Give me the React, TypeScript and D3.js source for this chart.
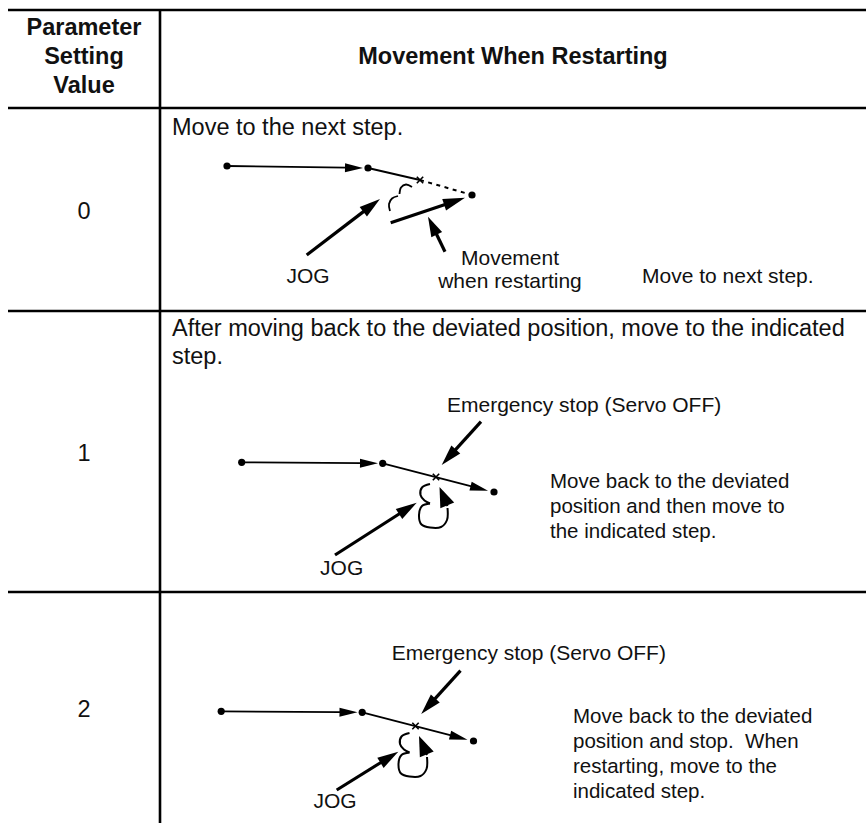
import React, { useEffect, useRef } from 'react'
import * as d3 from 'd3'

const WIDTH = 866
const HEIGHT = 823
const FONT = '"Liberation Sans", Arial, Helvetica, sans-serif'

// table content
const headerLeft = ['Parameter', 'Setting', 'Value']
const headerRight = 'Movement When Restarting'
const settingValues = ['0', '1', '2']
const descriptions = [
  ['Move to the next step.'],
  ['After moving back to the deviated position, move to the indicated', 'step.'],
  [],
]
const jogLabel = 'JOG'
const estopLabel = 'Emergency stop (Servo OFF)'
const movementLabel = ['Movement', 'when restarting']
const sideNotes = [
  ['Move to next step.'],
  ['Move back to the deviated', 'position and then move to', 'the indicated step.'],
  ['Move back to the deviated', 'position and stop.  When', 'restarting, move to the', 'indicated step.'],
]

// diagram geometry, in diagram units (row 1 frame); row 2 reuses it shifted
const route0 = [[227, 166], [368, 168], [472, 195]]
const stop0 = [420, 180]
const curl0a = [[412, 187], [406, 184.5], [401, 187.5], [399.5, 194]]
const curl0b = [[398, 196], [392, 198.5], [389, 204], [390, 211]]
const jogArrow0 = [[306.7, 255], [380, 199]]
const moveArrow0 = [[390.7, 222.7], [465, 197.7]]
const labelArrow0 = [[445, 251.7], [428, 216.7]]

const route1 = [[241.7, 462.3], [382.7, 463.3], [494, 492]]
const stop1 = [436, 477]
const estopArrow1 = [[481, 421.7], [441.7, 465]]
const curl1a = [[430, 484], [422, 487.5], [420.5, 495], [424.5, 500.5], [430, 503.5]]
const curl1b = [[430, 503.5], [422, 506], [419, 515], [421.5, 524.5], [430, 527.5], [441, 527], [447, 520], [447.5, 508]]
const curlHead1 = [[447.5, 506], [439.5, 487]]
const jogArrows = [[[335, 555], [416.7, 502.7]], [[336.7, 790], [398.3, 751.7]]]
const row2Shift = [-20.5, 249]

export default function App() {
  const ref = useRef<SVGSVGElement>(null)

  useEffect(() => {
    const svg = d3.select(ref.current)
    svg.selectAll('*').remove()

    // table rules
    const rules = [10, 108, 311, 592]
    const valueCenters = [219, 461, 717]
    svg.selectAll('line.rule')
      .data(rules)
      .enter()
      .append('line')
      .attr('class', 'rule')
      .attr('x1', 8).attr('x2', WIDTH)
      .attr('y1', d => d).attr('y2', d => d)
      .attr('stroke', '#000').attr('stroke-width', 2.6)
    svg.append('line')
      .attr('x1', 160).attr('x2', 160)
      .attr('y1', 9).attr('y2', HEIGHT)
      .attr('stroke', '#000').attr('stroke-width', 2.6)

    const text = (g: any, s: string, x: number, y: number, size: number, anchor = 'start', weight = 'normal') =>
      g.append('text')
        .attr('x', x).attr('y', y)
        .attr('font-family', FONT)
        .attr('font-size', size)
        .attr('font-weight', weight)
        .attr('text-anchor', anchor)
        .attr('fill', '#111')
        .style('white-space', 'pre')
        .text(s)

    headerLeft.forEach((s, i) => text(svg, s, 84, 35 + i * 29, 23.5, 'middle', 'bold'))
    text(svg, headerRight, 513, 64, 23.5, 'middle', 'bold')
    settingValues.forEach((s, i) => text(svg, s, 84, valueCenters[i], 23.5, 'middle'))
    descriptions.forEach((lines, r) => {
      const top = [135, 336, 0][r]
      lines.forEach((s, i) => text(svg, s, 172, top + i * 28, 23.5))
    })

    const line = d3.line()
    const curl = d3.line().curve(d3.curveCatmullRom)

    const arrow = (g: any, p: number[][], w: number, len: number, hw: number) => {
      const [[x1, y1], [x2, y2]] = p
      const a = Math.atan2(y2 - y1, x2 - x1)
      const bx = x2 - len * Math.cos(a), by = y2 - len * Math.sin(a)
      const px = -Math.sin(a) * hw / 2, py = Math.cos(a) * hw / 2
      if (Math.hypot(bx - x1, by - y1) > 0.5 && (bx - x1) * (x2 - x1) + (by - y1) * (y2 - y1) > 0) {
        g.append('path').attr('d', line([[x1, y1], [bx + Math.cos(a), by + Math.sin(a)]]))
          .attr('stroke', '#000').attr('stroke-width', w).attr('fill', 'none')
      }
      g.append('path')
        .attr('d', `M${x2},${y2}L${bx + px},${by + py}L${bx - px},${by - py}Z`)
        .attr('fill', '#000')
    }
    const dot = (g: any, p: number[]) =>
      g.append('circle').attr('cx', p[0]).attr('cy', p[1]).attr('r', 3.6).attr('fill', '#000')
    const cross = (g: any, p: number[]) => {
      const s = 3.2
      g.append('path')
        .attr('d', `M${p[0] - s},${p[1] - s}L${p[0] + s},${p[1] + s}M${p[0] - s},${p[1] + s}L${p[0] + s},${p[1] - s}`)
        .attr('stroke', '#000').attr('stroke-width', 1.6)
    }
    const pathOf = (g: any, d: string, w: number, dash?: string) =>
      g.append('path').attr('d', d).attr('fill', 'none')
        .attr('stroke', '#000').attr('stroke-width', w)
        .attr('stroke-dasharray', dash || null)

    // row 0 diagram
    const g0 = svg.append('g')
    arrow(g0, [route0[0], [route0[1][0] - 5, route0[1][1] - 0.1]], 1.8, 18, 9)
    pathOf(g0, line([route0[1], stop0]) as string, 1.8)
    pathOf(g0, line([stop0, route0[2]]) as string, 2, '4 4.5')
    route0.forEach(p => dot(g0, p))
    cross(g0, stop0)
    pathOf(g0, curl(curl0a as any) as string, 1.8)
    pathOf(g0, curl(curl0b as any) as string, 1.8)
    arrow(g0, jogArrow0, 3.2, 21, 12)
    arrow(g0, moveArrow0, 3.2, 22, 12)
    arrow(g0, labelArrow0, 3.2, 20, 12)
    text(g0, jogLabel, 308, 283, 21, 'middle')
    movementLabel.forEach((s, i) => text(g0, s, 510, 265 + i * 23, 21, 'middle'))
    text(g0, sideNotes[0][0], 642, 283, 21)

    // rows 1 and 2 share the same route, stop, curl and e-stop arrow
    ;[0, 1].forEach(k => {
      const g = svg.append('g')
        .attr('transform', k ? `translate(${row2Shift[0]},${row2Shift[1]})` : null)
      arrow(g, [route1[0], [route1[1][0] - 4.7, route1[1][1]]], 1.8, 18, 9)
      arrow(g, [route1[1], [route1[2][0] - 6, route1[2][1] - 1.3]], 1.8, 18, 9)
      route1.forEach(p => dot(g, p))
      cross(g, stop1)
      arrow(g, estopArrow1, 3.2, 21, 12)
      pathOf(g, curl(curl1a as any) as string, 2)
      pathOf(g, curl(curl1b as any) as string, 2)
      arrow(g, curlHead1, 2, 20, 15)
    })
    jogArrows.forEach(p => arrow(svg, p, 3.2, 21, 12))
    text(svg, jogLabel, 341.7, 575, 21, 'middle')
    text(svg, jogLabel, 335, 808, 21, 'middle')
    text(svg, estopLabel, 447, 412, 21)
    text(svg, estopLabel, 391.7, 660, 21)
    sideNotes[1].forEach((s, i) => text(svg, s, 550, 488 + i * 25, 20.5))
    sideNotes[2].forEach((s, i) => text(svg, s, 573, 723 + i * 25, 20.5))
  }, [])

  return (
    <svg
      ref={ref}
      width={WIDTH}
      height={HEIGHT}
      style={{ position: 'absolute', left: 0, top: 0, background: '#fff' }}
    />
  )
}
